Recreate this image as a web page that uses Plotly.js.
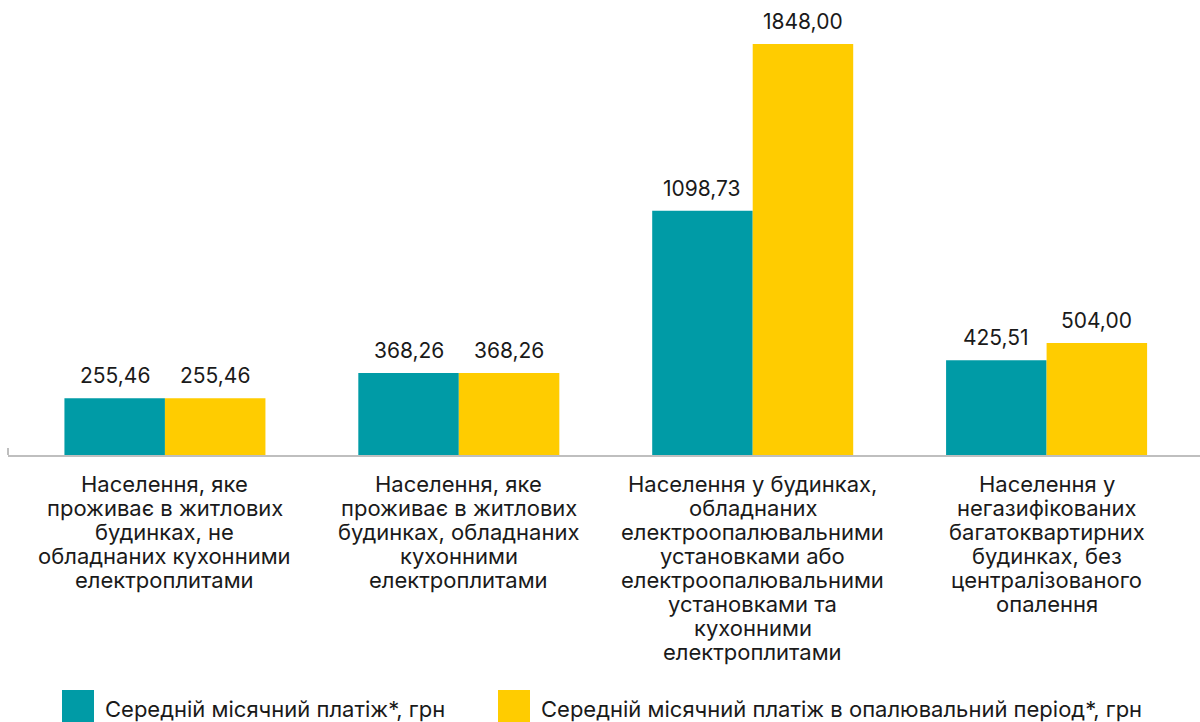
<!DOCTYPE html>
<html>
<head>
<meta charset="utf-8">
<script src="https://cdn.plot.ly/plotly-3.0.1.min.js"></script>
<style>
  html, body { margin: 0; padding: 0; background: #fff; }
  #chart { width: 1200px; height: 722px; }
</style>
</head>
<body>
<div id="chart"></div>
<script>
// categories and wrapped category labels
const categories = ['cat1', 'cat2', 'cat3', 'cat4'];
const tickLabels = [
    'Населення, яке<br>проживає в житлових<br>будинках, не<br>обладнаних кухонними<br>електроплитами',
    'Населення, яке<br>проживає в житлових<br>будинках, обладнаних<br>кухонними<br>електроплитами',
    'Населення у будинках,<br>обладнаних<br>електроопалювальними<br>установками або<br>електроопалювальними<br>установками та<br>кухонними<br>електроплитами',
    'Населення у<br>негазифікованих<br>багатоквартирних<br>будинках, без<br>централізованого<br>опалення'
];

// series
const seriesNames = ['Середній місячний платіж*, грн', 'Середній місячний платіж в опалювальний період*, грн'];
const monthlyPayment = [255.46, 368.26, 1098.73, 425.51];
const heatingPayment = [255.46, 368.26, 1848.00, 504.00];

const colors = ['#009BA6', '#FFCC00'];
const textColor = '#1a1a1a';
const fontFamily = 'Inter, "Open Sans", sans-serif';

// pixel helpers for plot area (left 8, width 1192, top 0, height 455)
const plotL = 8, plotW = 1192, plotH = 455;
const px2x = px => (px - plotL) / plotW;
const px2y = py => (plotH - py) / plotH;

const traces = [monthlyPayment, heatingPayment].map((vals, i) => ({
    type: 'bar',
    name: seriesNames[i],
    x: categories,
    y: vals,
    marker: { color: colors[i] },
    hoverinfo: 'y',
    showlegend: false
}));

// value labels above bars
const annotations = [];
[monthlyPayment, heatingPayment].forEach((vals, i) => {
    vals.forEach((v, j) => {
        annotations.push({
            x: categories[j],
            y: v,
            xref: 'x',
            yref: 'y',
            xshift: i === 0 ? -50.3 : 50.3,
            yshift: 8,
            yanchor: 'bottom',
            showarrow: false,
            text: v.toFixed(2).replace('.', ','),
            font: { family: fontFamily, size: 21, color: textColor }
        });
    });
});

// category labels, one annotation per line to keep the tight line spacing
tickLabels.forEach((label, j) => {
    label.split('<br>').forEach((line, k) => {
        annotations.push({
            x: categories[j],
            xref: 'x',
            y: px2y(484 + k * 24),
            yref: 'paper',
            yanchor: 'middle',
            showarrow: false,
            text: line,
            font: { family: fontFamily, size: 22, color: textColor }
        });
    });
});

// custom legend with large squares
const legendX = [62, 498];
const shapes = [];
seriesNames.forEach((name, i) => {
    shapes.push({
        type: 'rect', xref: 'paper', yref: 'paper',
        x0: px2x(legendX[i]), x1: px2x(legendX[i] + 32),
        y0: px2y(690), y1: px2y(724),
        fillcolor: colors[i], line: { width: 0 }
    });
    annotations.push({
        xref: 'paper', yref: 'paper',
        x: px2x(legendX[i] + 41), y: px2y(709),
        xanchor: 'left', yanchor: 'middle',
        showarrow: false,
        text: name,
        font: { family: fontFamily, size: 22, color: textColor }
    });
});

// small tick at the left end of the axis
shapes.push({
    type: 'line', xref: 'paper', yref: 'y',
    x0: 0, x1: 0, ysizemode: 'pixel', yanchor: 0, y0: -7, y1: 7,
    line: { color: '#BFBFBF', width: 2 }
});

const layout = {
    width: 1200,
    height: 722,
    margin: { l: plotL, r: 0, t: 0, b: 267 },
    paper_bgcolor: '#ffffff',
    plot_bgcolor: '#ffffff',
    barmode: 'group',
    bargap: 0.316,
    bargroupgap: 0,
    font: { family: fontFamily, color: textColor },
    xaxis: {
        type: 'category',
        range: [-0.534, 3.522],
        showticklabels: false,
        ticks: '',
        showline: true,
        linecolor: '#BFBFBF',
        linewidth: 2,
        showgrid: false,
        zeroline: false,
        fixedrange: true
    },
    yaxis: {
        range: [0, 2046],
        visible: false,
        showgrid: false,
        zeroline: false,
        fixedrange: true
    },
    annotations: annotations,
    shapes: shapes,
    showlegend: false
};

Plotly.newPlot('chart', traces, layout, { displayModeBar: false, staticPlot: true });
</script>
</body>
</html>
